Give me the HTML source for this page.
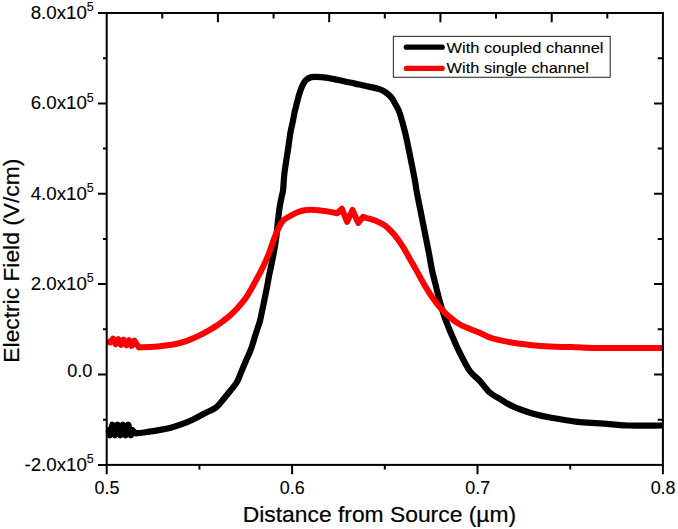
<!DOCTYPE html>
<html><head><meta charset="utf-8"><title>Electric Field</title>
<style>html,body{margin:0;padding:0;background:#fff;}body{width:678px;height:529px;position:relative;overflow:hidden;font-family:"Liberation Sans",sans-serif;}</style>
</head><body>
<svg width="678" height="529" viewBox="0 0 678 529" style="position:absolute;left:0;top:0">
<rect x="0" y="0" width="678" height="529" fill="#fff"/>
<path d="M107.0,430.0 L108.4,430.0 L109.8,435.3 L111.1,430.0 L112.4,424.7 L113.7,430.0 L115.0,435.3 L116.4,430.0 L117.7,424.7 L119.0,430.0 L120.3,435.3 L121.7,430.0 L123.0,424.7 L124.3,430.0 L125.6,435.3 L127.0,430.0 L128.3,424.7 L129.6,430.0 L130.9,435.3 L132.3,430.0 L135.4,433.4 C137.4,433.2 143.3,432.6 147.2,432.0 C151.1,431.4 155.2,430.8 159.0,430.1 C162.8,429.4 166.2,428.9 170.0,427.9 C173.8,426.9 177.9,425.6 181.8,424.2 C185.7,422.8 189.7,421.1 193.6,419.2 C197.5,417.3 201.7,414.9 205.4,413.0 C209.1,411.1 213.0,409.8 216.0,407.5 C219.0,405.2 220.8,402.4 223.2,399.5 C225.6,396.6 228.4,393.1 230.7,390.2 C233.0,387.3 235.0,385.4 236.8,382.3 C238.6,379.2 240.0,375.0 241.5,371.4 C243.0,367.8 244.4,364.5 246.0,360.8 C247.6,357.1 249.4,353.3 250.9,349.3 C252.4,345.3 253.8,340.2 254.9,336.6 C256.1,333.0 256.9,330.4 257.8,327.6 C258.7,324.8 259.3,323.8 260.2,320.0 C261.1,316.2 262.3,309.9 263.4,304.8 C264.4,299.8 265.6,294.2 266.5,289.7 C267.4,285.2 268.1,280.9 268.7,277.6 C269.3,274.3 269.4,274.5 270.3,270.0 C271.2,265.5 273.2,256.3 274.2,250.5 C275.2,244.7 275.9,240.4 276.5,235.4 C277.1,230.4 277.5,224.8 278.0,220.3 C278.5,215.8 278.9,212.2 279.5,208.2 C280.1,204.2 281.2,199.1 281.8,196.1 C282.4,193.1 282.7,193.8 283.1,190.0 C283.5,186.2 283.8,178.8 284.4,173.5 C285.0,168.2 285.9,163.4 286.6,158.4 C287.4,153.4 288.3,147.6 288.9,143.3 C289.5,139.0 289.8,136.2 290.4,132.7 C291.0,129.2 292.0,125.5 292.7,122.1 C293.4,118.6 294.1,114.5 294.6,112.0 C295.1,109.5 295.2,110.0 295.9,107.2 C296.6,104.4 297.9,98.8 298.9,95.4 C299.9,92.1 300.7,89.6 301.8,87.1 C302.9,84.6 303.8,82.3 305.4,80.6 C307.0,78.9 308.6,77.7 311.3,77.1 C314.0,76.5 317.7,76.8 321.3,77.1 C324.9,77.4 329.2,78.2 333.1,78.9 C337.0,79.6 341.2,80.7 344.9,81.5 C348.5,82.3 351.4,82.8 355.0,83.6 C358.6,84.4 362.9,85.3 366.8,86.2 C370.7,87.1 375.5,87.9 378.6,88.9 C381.8,89.9 383.5,90.9 385.7,92.4 C387.9,93.9 389.9,95.7 391.6,97.8 C393.3,99.9 394.4,102.4 395.7,104.8 C397.0,107.2 398.1,108.6 399.3,112.0 C400.6,115.4 401.9,120.4 403.2,125.1 C404.5,129.8 405.8,135.2 406.9,140.3 C408.0,145.4 409.0,150.4 410.0,155.4 C411.0,160.4 412.1,166.0 413.0,170.5 C413.9,175.0 414.7,179.3 415.3,182.6 C415.9,185.8 415.6,185.7 416.4,190.0 C417.2,194.3 418.9,202.6 420.0,208.2 C421.1,213.8 422.0,218.3 423.0,223.3 C424.0,228.3 425.0,233.4 426.0,238.4 C427.0,243.4 428.0,248.2 429.0,253.5 C430.0,258.8 430.9,264.7 432.0,270.0 C433.1,275.3 434.4,280.1 435.7,285.1 C436.9,290.2 438.1,295.2 439.5,300.3 C440.9,305.4 442.5,310.9 444.0,315.4 C445.5,319.9 447.1,323.7 448.6,327.5 C450.1,331.3 451.3,334.0 453.1,338.1 C454.9,342.2 456.6,346.6 459.4,352.0 C462.1,357.4 466.2,365.9 469.6,370.7 C473.0,375.5 476.4,377.2 479.8,380.9 C483.2,384.6 486.5,389.7 490.0,392.8 C493.5,395.9 497.2,397.3 501.0,399.6 C504.8,401.9 507.8,404.1 512.9,406.4 C518.0,408.7 525.4,411.3 531.6,413.2 C537.8,415.1 542.4,416.1 550.0,417.5 C557.6,418.9 569.1,420.8 577.4,421.8 C585.7,422.8 591.6,422.7 600.0,423.3 C608.4,423.9 617.7,425.1 628.0,425.5 C638.3,425.9 656.3,425.5 662.0,425.5" fill="none" stroke="#000" stroke-width="6.2" stroke-linejoin="round" stroke-linecap="butt"/>
<path d="M107.0,341.3 L110.3,342.5 L113.0,338.6 L115.7,344.3 L118.3,339.1 L121.0,344.8 L123.7,339.7 L126.4,345.3 L129.0,340.2 L131.7,345.9 L134.4,340.7 L138.8,347.4 C140.7,347.3 146.5,347.3 150.0,347.1 C153.5,346.9 156.7,346.6 160.0,346.2 C163.3,345.8 166.7,345.5 170.0,345.0 C173.3,344.5 176.7,343.9 180.0,343.0 C183.3,342.1 186.7,340.9 190.0,339.6 C193.3,338.3 197.1,336.5 200.0,335.1 C202.9,333.7 205.1,332.5 207.6,331.1 C210.1,329.7 212.6,328.2 215.1,326.6 C217.6,325.0 220.2,323.2 222.7,321.3 C225.2,319.4 227.8,317.5 230.3,315.2 C232.8,312.9 235.3,310.5 237.8,307.7 C240.3,304.9 243.1,301.8 245.4,298.6 C247.7,295.4 249.4,292.2 251.4,288.7 C253.4,285.2 255.5,281.2 257.5,277.5 C259.5,273.8 261.3,270.5 263.2,266.5 C265.1,262.5 267.1,258.2 268.9,253.5 C270.7,248.8 272.6,242.7 274.2,238.4 C275.8,234.1 277.2,230.8 278.7,227.8 C280.2,224.8 281.4,222.2 283.3,220.3 C285.2,218.4 287.5,217.5 290.0,216.1 C292.5,214.7 295.4,213.0 298.1,212.0 C300.8,211.0 303.5,210.4 306.2,210.1 C308.9,209.8 311.7,209.8 314.4,209.9 C317.1,210.0 319.8,210.3 322.5,210.7 C325.2,211.0 328.2,211.6 330.6,212.0 C333.0,212.4 336.0,213.0 337.1,213.2 L341.9,208.8 L347.1,221.8 L352.5,209.9 L358.2,222.9 L363.1,216.9 C364.1,217.2 367.0,218.1 369.0,218.7 C371.0,219.3 372.6,219.3 375.1,220.4 C377.6,221.5 381.4,223.1 384.2,225.0 C387.0,226.9 389.5,229.4 391.8,231.8 C394.1,234.2 395.8,236.5 397.8,239.3 C399.8,242.1 401.9,245.1 403.9,248.4 C405.9,251.7 407.9,255.5 409.9,259.0 C411.9,262.5 413.7,265.5 416.0,269.6 C418.3,273.7 421.1,279.2 423.6,283.6 C426.1,288.0 428.4,291.7 431.2,295.7 C434.0,299.7 437.3,304.3 440.3,307.8 C443.3,311.3 446.0,314.1 449.3,316.9 C452.6,319.7 456.4,322.5 459.9,324.5 C463.3,326.5 466.6,327.6 470.0,329.0 C473.4,330.4 476.4,331.4 480.2,333.0 C483.9,334.6 486.2,336.6 492.5,338.4 C498.8,340.1 508.4,342.1 518.0,343.5 C527.6,344.9 541.0,346.0 550.0,346.6 C559.0,347.2 564.4,346.8 571.7,347.0 C579.0,347.2 579.0,347.8 594.0,348.0 C609.0,348.2 650.7,348.0 662.0,348.0" fill="none" stroke="#ff0000" stroke-width="6.0" stroke-linejoin="round" stroke-linecap="butt"/>
<rect x="106.7" y="13.0" width="556.2" height="451.9" fill="none" stroke="#000" stroke-width="2"/>
<path d="M98.0,13.0 H106.7 M103.0,58.2 H106.7 M657.7,58.2 H662.9 M98.0,103.4 H106.7 M654.1,103.4 H662.9 M103.0,148.6 H106.7 M657.7,148.6 H662.9 M98.0,193.8 H106.7 M654.1,193.8 H662.9 M103.0,238.9 H106.7 M657.7,238.9 H662.9 M98.0,284.1 H106.7 M654.1,284.1 H662.9 M103.0,329.3 H106.7 M657.7,329.3 H662.9 M98.0,374.5 H106.7 M654.1,374.5 H662.9 M103.0,419.7 H106.7 M657.7,419.7 H662.9 M98.0,464.9 H106.7 M106.7,464.9 V474.3 M199.4,464.9 V469.5 M292.1,464.9 V474.3 M384.8,464.9 V469.5 M477.5,464.9 V474.3 M570.2,464.9 V469.5 M662.9,464.9 V474.3 M162.3,13.0 V18.4 M217.9,13.0 V22.2 M273.6,13.0 V18.4 M329.2,13.0 V22.2 M384.8,13.0 V18.4 M440.4,13.0 V22.2 M496.0,13.0 V18.4 M551.7,13.0 V22.2 M607.3,13.0 V18.4" fill="none" stroke="#000" stroke-width="2"/>
<rect x="393.4" y="36.4" width="216.8" height="40.9" fill="#fff" stroke="#333" stroke-width="1.1"/>
<path d="M406.3,47.2 H442.2" stroke="#000" stroke-width="5.2" stroke-linecap="round"/>
<path d="M406.3,68.4 H442.2" stroke="#ff0000" stroke-width="5.2" stroke-linecap="round"/>
<text transform="translate(446.60,53.00) scale(1.0660,1)" font-family="Liberation Sans, sans-serif" font-size="15.40" text-anchor="start" fill="#000" stroke="#000" stroke-width="0.10">With coupled channel</text>
<text transform="translate(446.60,72.80) scale(1.0660,1)" font-family="Liberation Sans, sans-serif" font-size="15.40" text-anchor="start" fill="#000" stroke="#000" stroke-width="0.10">With single channel</text>
<text transform="translate(93.80,19.10) scale(1.0400,1)" font-family="Liberation Sans, sans-serif" font-size="18.00" text-anchor="end" fill="#000" stroke="#000" stroke-width="0.10">8.0x10<tspan font-size="12" dy="-7.8">5</tspan></text>
<text transform="translate(93.80,109.48) scale(1.0400,1)" font-family="Liberation Sans, sans-serif" font-size="18.00" text-anchor="end" fill="#000" stroke="#000" stroke-width="0.10">6.0x10<tspan font-size="12" dy="-7.8">5</tspan></text>
<text transform="translate(93.80,199.86) scale(1.0400,1)" font-family="Liberation Sans, sans-serif" font-size="18.00" text-anchor="end" fill="#000" stroke="#000" stroke-width="0.10">4.0x10<tspan font-size="12" dy="-7.8">5</tspan></text>
<text transform="translate(93.80,290.24) scale(1.0400,1)" font-family="Liberation Sans, sans-serif" font-size="18.00" text-anchor="end" fill="#000" stroke="#000" stroke-width="0.10">2.0x10<tspan font-size="12" dy="-7.8">5</tspan></text>
<text transform="translate(92.40,377.42) scale(1.0000,1)" font-family="Liberation Sans, sans-serif" font-size="18.10" text-anchor="end" fill="#000" stroke="#000" stroke-width="0.10">0.0</text>
<text transform="translate(93.80,471.00) scale(1.0400,1)" font-family="Liberation Sans, sans-serif" font-size="18.00" text-anchor="end" fill="#000" stroke="#000" stroke-width="0.10">-2.0x10<tspan font-size="12" dy="-7.8">5</tspan></text>
<text transform="translate(106.90,493.70) scale(1.0000,1)" font-family="Liberation Sans, sans-serif" font-size="17.90" text-anchor="middle" fill="#000" stroke="#000" stroke-width="0.10">0.5</text>
<text transform="translate(292.30,493.70) scale(1.0000,1)" font-family="Liberation Sans, sans-serif" font-size="17.90" text-anchor="middle" fill="#000" stroke="#000" stroke-width="0.10">0.6</text>
<text transform="translate(477.70,493.70) scale(1.0000,1)" font-family="Liberation Sans, sans-serif" font-size="17.90" text-anchor="middle" fill="#000" stroke="#000" stroke-width="0.10">0.7</text>
<text transform="translate(663.10,493.70) scale(1.0000,1)" font-family="Liberation Sans, sans-serif" font-size="17.90" text-anchor="middle" fill="#000" stroke="#000" stroke-width="0.10">0.8</text>
<text transform="translate(379.40,522.00) scale(1.0730,1)" font-family="Liberation Sans, sans-serif" font-size="21.30" text-anchor="middle" fill="#000" stroke="#000" stroke-width="0.20">Distance from Source (µm)</text>
<text transform="translate(18.50,260.70) rotate(-90) scale(1.0710,1)" font-family="Liberation Sans, sans-serif" font-size="21.30" text-anchor="middle" fill="#000" stroke="#000" stroke-width="0.20">Electric Field (V/cm)</text>
</svg>
</body></html>
